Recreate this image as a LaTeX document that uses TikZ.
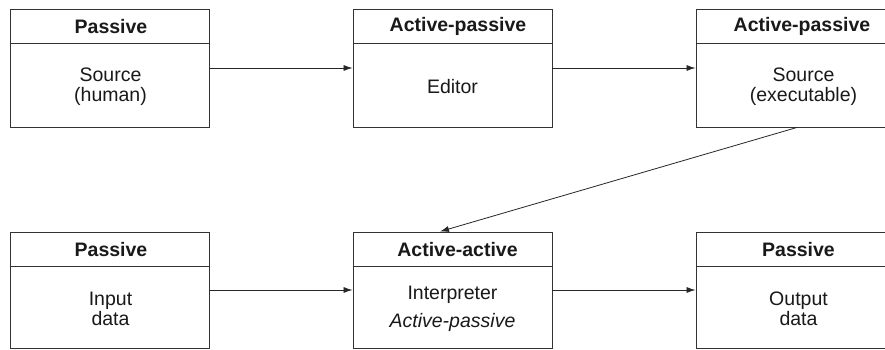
\documentclass[tikz,border=0pt]{standalone}
\usepackage{fontspec}
\setmainfont{Liberation Sans}
\usetikzlibrary{calc,arrows.meta}
\begin{document}
\begin{tikzpicture}[x=1pt,y=-1pt,
  box/.style={draw=black!80, line width=0.9pt, minimum width=199pt, inner sep=0pt},
  toprow/.style={box, minimum height=118pt},
  botrow/.style={box, minimum height=116pt},
  head/.style={font=\fontsize{19.5}{20}\selectfont\bfseries, inner sep=0pt, text=black!90},
  body/.style={font=\fontsize{19.5}{20}\selectfont, align=center, inner sep=0pt, text=black!90},
  arr/.style={-{Latex[length=9pt,width=6pt]}, line width=0.8pt, draw=black!85},
  sep/.style={line width=0.9pt, draw=black!80}]
\useasboundingbox (0,0) rectangle (885,350);
\clip (0,0) rectangle (885,350);
\fill[white] (0,0) rectangle (885,350);
% boxes
\node[toprow] (b1) at (109.5,68) {};
\node[toprow] (b2) at (452.5,68) {};
\node[toprow] (b3) at (795.5,68) {};
\node[botrow] (b4) at (109.5,290) {};
\node[botrow] (b5) at (452.5,290) {};
\node[botrow] (b6) at (795.5,290) {};
% header separators
\foreach \b in {b1,b2,b3,b4,b5,b6}
  \draw[sep] ($(\b.north west)+(0,35)$) -- ($(\b.north east)+(0,35)$);
% headers
\node[head] (h1) at ($(b1.north)+(1.5,17.5)$) {Passive};
\node[head] (h2) at ($(b2.north)+(5.5,17.5)$) {Active-passive};
\node[head] (h3) at ($(b3.north)+(6.5,17.5)$) {Active-passive};
\node[head] (h4) at ($(b4.north)+(1.5,17.5)$) {Passive};
\node[head] (h5) at ($(b5.north)+(5,17.5)$) {Active-active};
\node[head] (h6) at ($(b6.north)+(3,17.5)$) {Passive};
% bodies
\node[body] (t1) at ($(b1.center)+(1,19)$) {Source\\(human)};
\node[body] (t2) at ($(b2.center)+(0,19)$) {Editor};
\node[body] (t3) at ($(b3.center)+(8,19)$) {Source\\(executable)};
\node[body] (t4) at ($(b4.center)+(1,19)$) {Input\\data};
\node[body] (t5) at ($(b5.center)+(0,19)$) {Interpreter\\[8pt]\textit{Active-passive}};
\node[body] (t6) at ($(b6.center)+(3,19)$) {Output\\data};
% connectors
\draw[arr] (b1.east) -- (b2.west);
\draw[arr] (b2.east) -- (b3.west);
\draw[arr] ($(b3.south)+(1.5,0)$) -- ($(b5.north)+(-12.5,0)$);
\draw[arr] (b4.east) -- (b5.west);
\draw[arr] (b5.east) -- (b6.west);
\end{tikzpicture}
\end{document}
